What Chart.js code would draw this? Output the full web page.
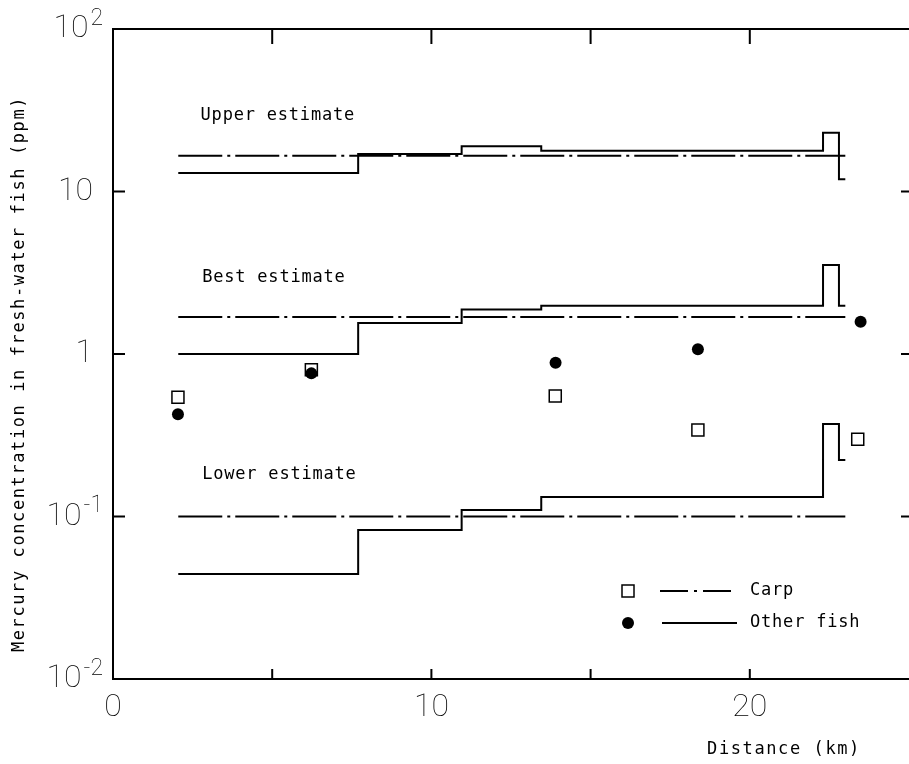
<!DOCTYPE html>
<html>
<head>
<meta charset="utf-8">
<script src="https://cdn.jsdelivr.net/npm/chart.js@4"></script>
<style>
  html, body { margin: 0; padding: 0; background: #fff; }
  #wrap { width: 909px; height: 764px; }
</style>
</head>
<body>
<div id="wrap"><canvas id="fish-chart" width="909" height="764"></canvas></div>
<script>
// step breakpoints (km) shared by the "other fish" estimates
const stepKm = [2.05, 7.7, 10.95, 13.45, 22.3, 22.8, 23.0];
const upperOther = [13.0, 17.0, 19.0, 17.8, 23.0, 11.9, 11.9];
const bestOther = [1.0, 1.55, 1.88, 1.98, 3.53, 1.98, 1.98];
const lowerOther = [0.0443, 0.0826, 0.1096, 0.132, 0.371, 0.223, 0.223];

// carp estimates are flat lines
const carpLineKm = [2.05, 23.0];
const upperCarp = 16.6;
const bestCarp = 1.69;
const lowerCarp = 0.1;

// measured samples
const fishKm = [2.04, 6.23, 13.9, 18.37, 23.48];
const fishPpm = [0.426, 0.76, 0.884, 1.07, 1.58];
const carpKm = [2.04, 6.23, 13.89, 18.37, 23.39];
const carpPpm = [0.541, 0.80, 0.552, 0.341, 0.299];

const xTicks = [0, 10, 20];
const yDecades = [100, 10, 1, 0.1, 0.01];
const yBase = ['10', '10', '1', '10', '10'];
const ySup = ['2', '', '', '-1', '-2'];

const estimateLabels = ['Upper estimate', 'Best estimate', 'Lower estimate'];
const estimateAt = [[2.75, 29.5], [2.8, 2.94], [2.8, 0.18]];

const DASH_DOT = [44, 5, 3, 5];
const monoFont = "17px 'DejaVu Sans Mono', monospace";
const thinFamily = "Roboto, 'DejaVu Sans', sans-serif";

function zip(xs, ys) {
    return xs.map((x, i) => ({ x: x, y: ys[i] }));
}

function stepSet(values) {
    return {
        data: zip(stepKm, values),
        showLine: true,
        stepped: true,
        borderColor: '#000',
        borderWidth: 2,
        pointRadius: 0
    };
}

function carpSet(value) {
    return {
        data: zip(carpLineKm, carpLineKm.map(() => value)),
        showLine: true,
        borderColor: '#000',
        borderWidth: 2,
        borderDash: DASH_DOT,
        pointRadius: 0
    };
}

const decorations = {
    id: 'decorations',
    afterDraw(chart) {
        const ctx = chart.ctx;
        const xs = chart.scales.x;
        const ys = chart.scales.y;
        const area = chart.chartArea;
        ctx.save();
        ctx.strokeStyle = '#000';
        ctx.fillStyle = '#000';
        ctx.lineWidth = 2;

        // top frame line
        ctx.beginPath();
        ctx.moveTo(area.left, area.top);
        ctx.lineTo(area.right, area.top);
        ctx.stroke();

        // inward ticks
        ctx.beginPath();
        [5, 10, 15, 20].forEach(v => {
            const px = xs.getPixelForValue(v);
            ctx.moveTo(px, area.bottom);
            ctx.lineTo(px, area.bottom - 10);
            ctx.moveTo(px, area.top);
            ctx.lineTo(px, area.top + 15);
        });
        [10, 1, 0.1].forEach(v => {
            const py = ys.getPixelForValue(v);
            ctx.moveTo(area.left, py);
            ctx.lineTo(area.left + 12, py);
            ctx.moveTo(area.right, py);
            ctx.lineTo(area.right - 8, py);
        });
        ctx.stroke();

        // y tick labels with superscripts
        ctx.textBaseline = 'middle';
        const baseFont = '100 32px ' + thinFamily;
        const supFont = '100 23px ' + thinFamily;
        yDecades.forEach((v, i) => {
            const py = ys.getPixelForValue(v);
            ctx.font = baseFont;
            const baseW = ctx.measureText(yBase[i]).width;
            ctx.font = supFont;
            const supW = ySup[i] ? ctx.measureText(ySup[i]).width + 2 : 0;
            const right = ySup[i] ? 103 : 93;
            const left = right - baseW - supW;
            ctx.textAlign = 'left';
            ctx.font = baseFont;
            ctx.fillText(yBase[i], left, py);
            if (ySup[i]) {
                ctx.font = supFont;
                ctx.fillText(ySup[i], left + baseW + 2, py - 10);
            }
        });

        // estimate captions
        ctx.font = monoFont;
        ctx.letterSpacing = '0.8px';
        ctx.textAlign = 'left';
        estimateLabels.forEach((t, i) => {
            ctx.fillText(t, xs.getPixelForValue(estimateAt[i][0]), ys.getPixelForValue(estimateAt[i][1]));
        });

        // legend
        const lx = 628;
        const rows = [591, 623];
        ctx.lineWidth = 1.5;
        ctx.strokeRect(lx - 6, rows[0] - 6, 12, 12);
        ctx.beginPath();
        ctx.arc(lx, rows[1], 6, 0, Math.PI * 2);
        ctx.fill();
        ctx.lineWidth = 2;
        ctx.setLineDash([28, 6, 3, 6]);
        ctx.beginPath();
        ctx.moveTo(660, rows[0]);
        ctx.lineTo(737, rows[0]);
        ctx.stroke();
        ctx.setLineDash([]);
        ctx.beginPath();
        ctx.moveTo(662, rows[1]);
        ctx.lineTo(737, rows[1]);
        ctx.stroke();
        ctx.fillText('Carp', 750, rows[0]);
        ctx.fillText('Other fish', 750, rows[1]);

        // axis titles
        ctx.letterSpacing = '1.6px';
        ctx.textAlign = 'center';
        ctx.fillText('Distance (km)', 784, 750);
        ctx.translate(20, 374);
        ctx.rotate(-Math.PI / 2);
        ctx.fillText('Mercury concentration in fresh-water fish (ppm)', 0, 0);
        ctx.restore();
    }
};

new Chart(document.getElementById('fish-chart'), {
    type: 'scatter',
    data: {
        datasets: [
            {
                label: 'Other fish',
                data: zip(fishKm, fishPpm),
                pointStyle: 'circle',
                pointRadius: 6,
                backgroundColor: '#000',
                borderColor: '#000',
                borderWidth: 0
            },
            {
                label: 'Carp',
                data: zip(carpKm, carpPpm),
                pointStyle: 'rect',
                pointRadius: 8.5,
                backgroundColor: '#fff',
                borderColor: '#000',
                borderWidth: 1.5
            },
            stepSet(upperOther),
            stepSet(bestOther),
            stepSet(lowerOther),
            carpSet(upperCarp),
            carpSet(bestCarp),
            carpSet(lowerCarp)
        ]
    },
    options: {
        responsive: false,
        animation: false,
        events: [],
        layout: { autoPadding: false, padding: { top: 29, right: 0, left: 0, bottom: 0 } },
        plugins: {
            legend: { display: false },
            tooltip: { enabled: false }
        },
        scales: {
            x: {
                type: 'linear',
                min: 0,
                max: 25,
                grid: { display: false },
                border: { color: '#000', width: 2 },
                afterBuildTicks: s => { s.ticks = xTicks.map(v => ({ value: v })); },
                afterFit: s => { s.height = 85; s.paddingRight = 0; s.paddingLeft = 0; },
                ticks: {
                    color: '#000',
                    padding: 2,
                    maxRotation: 0,
                    font: { family: thinFamily, size: 32, weight: 100 }
                }
            },
            y: {
                type: 'logarithmic',
                min: 0.01,
                max: 100,
                grid: { display: false },
                border: { color: '#000', width: 2 },
                afterBuildTicks: s => { s.ticks = yDecades.map(v => ({ value: v })); },
                afterFit: s => { s.width = 113; s.paddingTop = 0; s.paddingBottom = 0; },
                ticks: { display: false }
            }
        }
    },
    plugins: [decorations]
});
</script>
</body>
</html>
